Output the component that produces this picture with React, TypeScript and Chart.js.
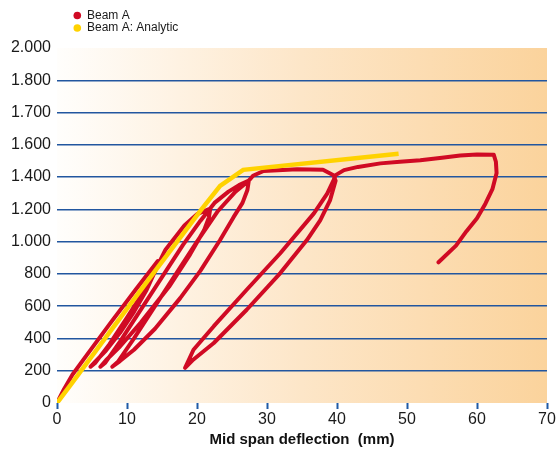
import { useEffect, useRef } from 'react';
import { Chart, registerables } from 'chart.js';

Chart.register(...registerables);

// Measured beam: mid span deflection (mm)
const beamADeflection = [
  0, 1, 2.2, 4.3, 7.7, 11.2, 14.4,
  14.1, 12.8, 11, 9, 7, 5.5, 4.8,
  5.5, 7.5, 10, 12.5, 14.4, 15.5, 18.2, 20, 21.9,
  21.7, 21, 19, 16, 12, 9, 7, 6.2,
  6.9, 9, 12, 15, 18, 20.5, 22.5, 24.5, 26, 27.4,
  27.2, 26.5, 25.2, 23.3, 20.5, 17.6, 14, 11, 9, 7.9,
  8.7, 11, 14, 17, 20, 23, 25.5, 27.4,
  28, 29.5, 34.3, 38, 39.5,
  39.8, 39.0, 37.6, 35.7, 31.9, 27.1, 22.4, 19.5, 18.3,
  19.5, 22.4, 27.1, 31.9, 36.7, 38.6, 39.5, 39.8,
  41, 43, 46.2, 49, 51.9, 55, 57.6, 60, 62.4,
  62.7, 62.8, 62.2, 61.2, 60.0, 58.5, 57.0, 54.5,
];
// Measured beam: load
const beamALoad = [
  0, 85, 175, 300, 500, 700, 880,
  825, 700, 565, 435, 325, 258, 225,
  250, 365, 530, 700, 855, 950, 1100, 1170, 1205,
  1150, 1070, 920, 720, 500, 350, 265, 225,
  250, 380, 580, 780, 980, 1130, 1240, 1310, 1350, 1378,
  1320, 1240, 1150, 1010, 820, 650, 460, 330, 260, 225,
  255, 400, 600, 800, 1000, 1190, 1310, 1378,
  1408, 1438, 1448, 1446, 1412,
  1378, 1255, 1132, 1010, 805, 578, 372, 270, 218,
  330, 476, 702, 928, 1175, 1298, 1380, 1412,
  1443, 1463, 1485, 1495, 1505, 1520, 1534, 1540, 1538,
  1495, 1425, 1325, 1235, 1145, 1065, 975, 872,
];

// Analytic prediction
const analyticDeflection = [0, 2, 13, 20.5, 23.3, 26.6, 48.8];
const analyticLoad = [0, 115, 760, 1192, 1345, 1445, 1545];

const seriesNames = ['Beam A', 'Beam A: Analytic'];
const seriesColors = ['#d00a24', '#ffd200'];

const yTickLabels = ['0', '200', '400', '600', '800', '1.000', '1.200', '1.400', '1.600', '1.700', '1.800', '2.000'];
const xAxisTitle = 'Mid span deflection  (mm)';

const FONT = "'Liberation Sans', Arial, Helvetica, sans-serif";

export default function App() {
  const canvasRef = useRef<HTMLCanvasElement | null>(null);

  useEffect(() => {
    const canvas = canvasRef.current;
    if (!canvas) return;

    const bgPlugin = {
      id: 'areaBackground',
      beforeDraw(chart: any) {
        const { ctx, chartArea } = chart;
        if (!chartArea) return;
        const g = ctx.createLinearGradient(chartArea.left, 0, chartArea.right, 0);
        g.addColorStop(0, '#fffefc');
        g.addColorStop(0.5, '#fde6c8');
        g.addColorStop(1, '#fbd39c');
        ctx.save();
        ctx.fillStyle = g;
        ctx.fillRect(chartArea.left, chartArea.top, chartArea.right - chartArea.left, chartArea.bottom - chartArea.top);
        ctx.restore();
      },
    };

    const legendPlugin = {
      id: 'customLegend',
      afterDraw(chart: any) {
        const { ctx } = chart;
        ctx.save();
        seriesNames.forEach((name, i) => {
          const y = 15.5 + i * 12.5;
          ctx.beginPath();
          ctx.fillStyle = seriesColors[i];
          ctx.arc(77.3, y, 3.8, 0, Math.PI * 2);
          ctx.fill();
          ctx.fillStyle = '#1a1a1a';
          ctx.font = `12px ${FONT}`;
          ctx.textBaseline = 'middle';
          ctx.textAlign = 'left';
          ctx.fillText(name, 87, y);
        });
        ctx.restore();
      },
    };

    const toPoints = (xs: number[], ys: number[]) => xs.map((x, i) => ({ x, y: ys[i] }));

    const chart = new Chart(canvas, {
      type: 'scatter',
      data: {
        datasets: [
          {
            label: seriesNames[1],
            data: toPoints(analyticDeflection, analyticLoad),
            showLine: true,
            borderColor: seriesColors[1],
            backgroundColor: seriesColors[1],
            borderWidth: 4.5,
            pointRadius: 0,
            tension: 0,
            order: 0,
          },
          {
            label: seriesNames[0],
            data: toPoints(beamADeflection, beamALoad),
            showLine: true,
            borderColor: seriesColors[0],
            backgroundColor: seriesColors[0],
            borderWidth: 4,
            pointRadius: 0,
            tension: 0,
            borderJoinStyle: 'round',
            borderCapStyle: 'round',
            order: 1,
          },
        ],
      },
      options: {
        responsive: false,
        animation: false,
        devicePixelRatio: 1,
        layout: { padding: { left: 0, right: 10, top: 48, bottom: 0 } },
        plugins: {
          legend: { display: false },
          tooltip: { enabled: false },
        },
        scales: {
          x: {
            type: 'linear',
            min: 0,
            max: 70,
            ticks: {
              stepSize: 10,
              color: '#1a1a1a',
              font: { size: 16, family: FONT },
              padding: 1,
              maxRotation: 0,
            },
            grid: {
              drawOnChartArea: false,
              drawTicks: true,
              tickLength: 6,
              tickColor: '#1f5aa6',
              tickWidth: 2,
            },
            border: { display: false },
            title: {
              display: true,
              text: xAxisTitle,
              color: '#111',
              font: { size: 15, weight: 'bold', family: FONT },
              padding: { top: 0, bottom: 2 },
            },
            afterFit(scale: any) {
              scale.height = 48;
            },
          },
          y: {
            type: 'linear',
            min: 0,
            max: 2200,
            ticks: {
              stepSize: 200,
              color: '#1a1a1a',
              font: { size: 16, family: FONT },
              padding: 6,
              callback: (_v: any, index: number) => yTickLabels[index],
            },
            grid: {
              drawTicks: false,
              lineWidth: 1.5,
              color: (ctx: any) =>
                ctx.tick && (ctx.tick.value === 0 || ctx.tick.value === 2200) ? 'rgba(0,0,0,0)' : '#22569f',
            },
            border: { display: false },
            afterFit(scale: any) {
              scale.width = 57;
            },
          },
        },
      },
      plugins: [bgPlugin, legendPlugin],
    } as any);

    return () => chart.destroy();
  }, []);

  return (
    <div style={{ position: 'absolute', left: 0, top: 0, width: 557, height: 451, background: '#fff' }}>
      <canvas ref={canvasRef} width={557} height={451} style={{ display: 'block' }} />
    </div>
  );
}
